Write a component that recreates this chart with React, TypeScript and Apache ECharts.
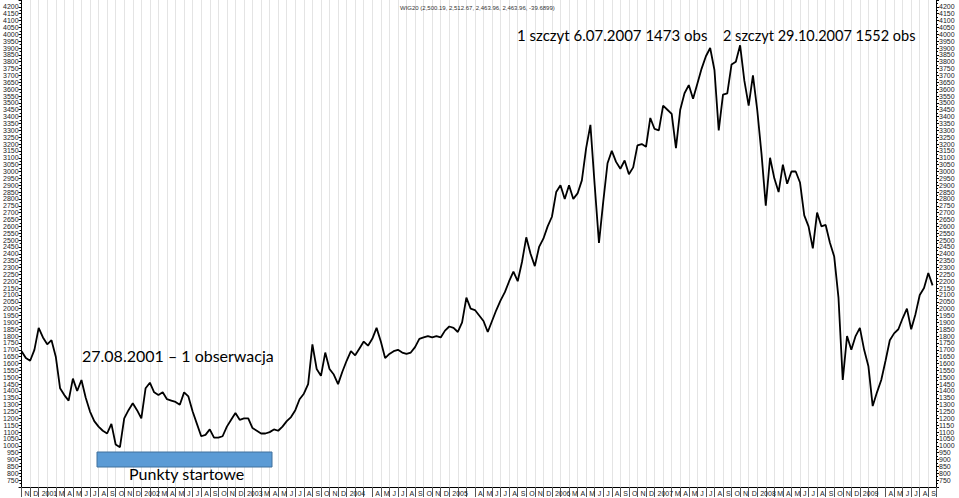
import React, { useEffect, useRef } from 'react';
import * as echarts from 'echarts';

// Month tick labels, one per month starting Nov 2000
const monthLabels: string[] = [
  'N', 'D',
  '2001', '', 'M', 'A', 'M', 'J', 'J', 'A', 'S', 'O', 'N', 'D',
  '2002', '', 'M', 'A', 'M', 'J', 'J', 'A', 'S', 'O', 'N', 'D',
  '2003', '', 'M', 'A', 'M', 'J', 'J', 'A', 'S', 'O', 'N', 'D',
  '2004', '', '', 'A', 'M', 'J', 'J', 'A', 'S', 'O', 'N', 'D',
  '2005', '', '', 'A', 'M', 'J', 'J', 'A', 'S', 'O', 'N', 'D',
  '2006', '', 'M', 'A', 'M', 'J', 'J', 'A', 'S', 'O', 'N', 'D',
  '2007', '', 'M', 'A', 'M', 'J', 'J', 'A', 'S', 'O', 'N', 'D',
  '2008', '', 'M', 'A', 'M', 'J', 'J', 'A', 'S', 'O', 'N', 'D',
  '2009', '', '', 'A', 'M', 'J', 'J', 'A', 'S',
];

// WIG20 level read every half month, starting at the beginning of Nov 2000
const wig20: number[] = [
  1690, 1640, 1620, 1700, 1860, 1790, 1740, 1770, 1650, 1420,
  1370, 1330, 1490, 1400, 1480, 1350, 1250, 1180, 1140, 1110,
  1090, 1160, 1010, 990, 1200, 1260, 1310, 1260, 1200, 1420,
  1460, 1390, 1370, 1390, 1340, 1330, 1320, 1300, 1390, 1360,
  1250, 1160, 1070, 1080, 1120, 1060, 1060, 1070, 1140, 1190,
  1240, 1190, 1200, 1200, 1130, 1110, 1090, 1090, 1100, 1120,
  1110, 1140, 1180, 1210, 1260, 1340, 1380, 1450, 1740, 1560,
  1510, 1680, 1560, 1520, 1450, 1540, 1620, 1690, 1660, 1710,
  1760, 1730, 1780, 1860, 1760, 1640, 1670, 1690, 1700, 1680,
  1670, 1680, 1720, 1780, 1790, 1800, 1790, 1800, 1790, 1840,
  1870, 1860, 1830, 1900, 2080, 2000, 1990, 1950,
  1910, 1830, 1910, 1990, 2060, 2120, 2200, 2270, 2200, 2340,
  2520, 2400, 2310, 2450, 2510, 2600, 2670, 2850, 2900, 2800,
  2900, 2800, 2840, 2935, 3170, 3340, 2900, 2480, 2780, 3060,
  3150, 3070, 3020, 3080, 2980, 3030, 3190, 3200, 3180, 3390,
  3310, 3300, 3480, 3450, 3420, 3170, 3450, 3570, 3630, 3530,
  3640, 3750, 3840, 3900, 3740, 3300, 3560, 3570, 3780, 3800,
  3920, 3660, 3480, 3700, 3450, 3130, 2750, 3100, 2950, 2850,
  3050, 2910, 3000, 3000, 2920, 2680, 2600, 2440, 2700, 2600,
  2610, 2480, 2380, 2080, 1480, 1800, 1700, 1800, 1860, 1700,
  1580, 1290, 1390, 1480, 1620, 1770, 1820, 1850, 1930, 2000,
  1850, 1960, 2100, 2150, 2260, 2170,
];

const titleText = 'WIG20 (2,500.19, 2,512.67, 2,463.96, 2,463.96, -39.6899)';
const peak1Text = '1 szczyt 6.07.2007 1473 obs';
const peak2Text = '2 szczyt 29.10.2007 1552 obs';
const firstObsText = '27.08.2001 \u2013 1 obserwacja';
const startText = 'Punkty startowe';

export default function App() {
  const ref = useRef<HTMLDivElement>(null);
  useEffect(() => {
    const chart = echarts.init(ref.current as HTMLDivElement, null, { renderer: 'svg' });
    const data = wig20.map((v, i) => [i * 0.5, v]);
    const yAxisCommon = (pos: string) => ({
      type: 'value',
      position: pos,
      min: 700,
      max: 4250,
      interval: 50,
      axisLine: { show: true, lineStyle: { color: '#000', width: 1 } },
      axisTick: { show: true, length: 3, lineStyle: { color: '#000' } },
      minorTick: { show: true, splitNumber: 2, length: 2, lineStyle: { color: '#000' } },
      axisLabel: {
        fontSize: 7,
        color: '#222',
        margin: 3,
        fontFamily: 'Liberation Sans',
        formatter: (v: number) => (v <= 700 || v >= 4250 ? '' : String(v)),
      },
      splitLine: { show: false },
    });
    chart.setOption({
      animation: false,
      grid: { left: 16, right: 23, top: 0, bottom: 11 },
      xAxis: {
        type: 'value',
        min: 0,
        max: 106.9,
        interval: 1,
        axisLine: { show: true, lineStyle: { color: '#000' } },
        axisTick: { show: true, length: 10, lineStyle: { color: '#555' } },
        axisLabel: {
          fontSize: 7,
          color: '#222',
          fontFamily: 'Liberation Sans',
          align: 'left',
          margin: 3,
          padding: [0, 0, 0, 3],
          formatter: (v: number) => (Math.abs(v - Math.round(v)) < 1e-6 ? monthLabels[Math.round(v)] ?? '' : ''),
        },
        splitLine: { show: true, lineStyle: { color: '#e4e4e4', width: 1 } },
      },
      yAxis: [yAxisCommon('left'), yAxisCommon('right')],
      series: [
        {
          type: 'line',
          data,
          symbol: 'none',
          lineStyle: { color: '#000', width: 1.8 },
        },
      ],
      graphic: [
        {
          type: 'text', x: 400, y: 8, z: 100,
          style: { text: titleText, fontSize: 6, fontFamily: 'Liberation Sans', fill: '#333', verticalAlign: 'middle' },
        },
        {
          type: 'text', x: 517, y: 35, z: 100,
          style: { text: peak1Text, fontSize: 15, fontFamily: 'Lato', fill: '#000', verticalAlign: 'middle' },
        },
        {
          type: 'text', x: 723, y: 35, z: 100,
          style: { text: peak2Text, fontSize: 14.5, fontFamily: 'Lato', fill: '#000', verticalAlign: 'middle' },
        },
        {
          type: 'text', x: 82, y: 355, z: 100,
          style: { text: firstObsText, fontSize: 16, fontFamily: 'Lato', fill: '#000', verticalAlign: 'middle' },
        },
        {
          type: 'rect', z: 100,
          shape: { x: 97, y: 452, width: 175, height: 15 },
          style: { fill: '#5b9bd5', stroke: '#41719c', lineWidth: 1 },
        },
        {
          type: 'text', x: 129, y: 473, z: 101,
          style: { text: startText, fontSize: 16, fontFamily: 'Lato', fill: '#000', verticalAlign: 'middle' },
        },
      ],
    });
    return () => chart.dispose();
  }, []);
  return <div ref={ref} style={{ position: 'absolute', left: 0, top: 0, width: 959, height: 498 }} />;
}
